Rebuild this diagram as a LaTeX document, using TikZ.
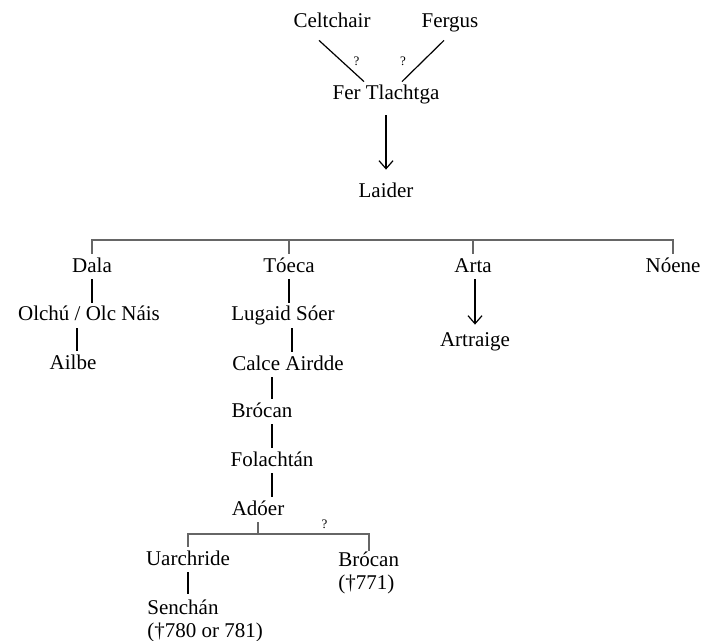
\documentclass[tikz,border=0pt]{standalone}
\usepackage{fontspec}
\setmainfont{Liberation Serif}
\usetikzlibrary{arrows.meta, calc}

\begin{document}
\begin{tikzpicture}[x=0.5pt, y=-0.5pt,
    person/.style={font=\fontsize{10.5}{12}\selectfont, inner xsep=0pt, inner ysep=1.5pt, text height=7.5pt, text depth=2pt, anchor=base},
    twoline/.style={font=\fontsize{10.5}{11.5}\selectfont, inner sep=0pt, align=left, anchor=north west},
    doubt/.style={font=\fontsize{6.5}{7}\selectfont, inner sep=0pt, text=black},
    link/.style={line width=0.6pt},
    descent/.style={line width=0.6pt, -{Straight Barb[length=4pt, width=7pt]}},
    bar/.style={line width=1pt, black!60}
]
\useasboundingbox (0,0) rectangle (704,640);

% Possible fathers
\node[person] (celtchair) at (332,28) {Celtchair};
\node[person] (fergus) at (450,28) {Fergus};
\node[person] (fer) at (386,100) {Fer Tlachtga};
\draw[link] ([xshift=-6.5pt, yshift=-2.5pt]celtchair.south) -- node[doubt, midway, xshift=7.5pt] {?} ([xshift=-11pt]fer.north);
\draw[link] ([xshift=-3pt, yshift=-2.5pt]fergus.south) -- node[doubt, midway, xshift=-10pt] {?} ([xshift=8pt]fer.north);

\node[person] (laider) at (386,198) {Laider};
\draw[descent, shorten <=4pt, shorten >=5pt] (fer.south) -- (laider.north);

% Sons of Laider
\coordinate (gen) at (0,240);
\node[person] (dala) at (92,272) {Dala};
\node[person] (toeca) at (289,272) {Tóeca};
\node[person] (arta) at (473,272) {Arta};
\node[person] (noene) at (673,272) {Nóene};
\draw[bar] (dala.north) -- (dala.north |- gen) -- (noene.north |- gen) -- (noene.north);
\foreach \n in {toeca, arta} {
    \draw[bar] (\n.north |- gen) -- (\n.north);
}

% Dala
\node[person] (olchu) at (89,321) {Olchú / Olc Náis};
\node[person] (ailbe) at (73,369) {Ailbe};
\draw[link] (dala.south) -- (dala.south |- olchu.north);
\draw[link] ($(ailbe.north |- olchu.south)+(4,0)$) -- ($(ailbe.north)+(4,0)$);

% Arta
\node[person] (artraige) at (475,346) {Artraige};
\draw[descent, shorten >=1.5pt] (artraige.north |- arta.south) -- (artraige.north);

% Toeca
\node[person] (lugaid) at (283,321) {Lugaid Sóer};
\node[person] (calce) at (288,370) {Calce Airdde};
\node[person] (brocan) at (262,417) {Brócan};
\node[person] (folachtan) at (272,466) {Folachtán};
\node[person] (adoer) at (258,515) {Adóer};
\draw[link] (toeca.south) -- (toeca.south |- lugaid.north);
\draw[link] ($(calce.north |- lugaid.south)+(4,0)$) -- ($(calce.north)+(4,0)$);
\draw[link] (calce.south -| folachtan) -- (brocan.north -| folachtan);
\draw[link] (brocan.south -| folachtan) -- (folachtan.north);
\draw[link] (folachtan.south) -- (folachtan.south |- adoer.north);

% Sons of Adoer
\coordinate (sons) at (0,534);
\node[person] (uarchride) at (188,565) {Uarchride};
\node[twoline] (brocanb) at (338,551) {Brócan\\(†771)};
\draw[bar] (adoer.south) -- (adoer.south |- sons);
\draw[bar] (uarchride.north) |- (adoer.south |- sons) -- node[doubt, pos=0.6, above=2pt] {?} (brocanb.north |- sons) -- (brocanb.north);

\node[twoline] (senchan) at (147,599) {Senchán\\(†780 or 781)};
\draw[link, shorten >=2.5pt] (uarchride.south) -- (uarchride.south |- senchan.north);

\end{tikzpicture}
\end{document}
